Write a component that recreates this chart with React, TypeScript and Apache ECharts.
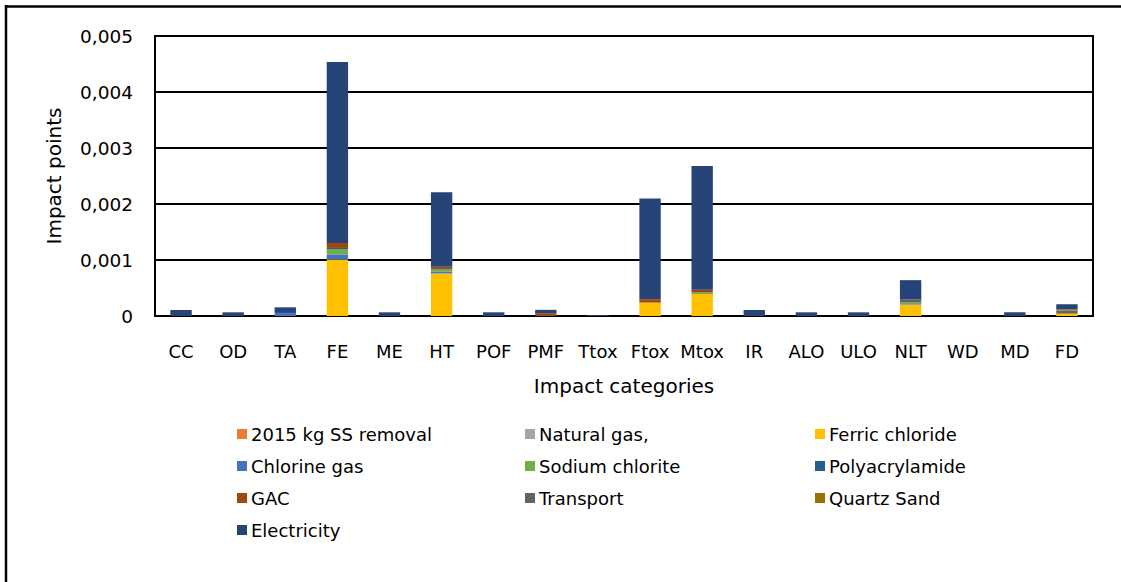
import React, { useEffect, useRef } from "react";
import * as echarts from "echarts";

const categories = ["CC", "OD", "TA", "FE", "ME", "HT", "POF", "PMF", "Ttox", "Ftox", "Mtox", "IR", "ALO", "ULO", "NLT", "WD", "MD", "FD"];

const seriesNames = ["2015 kg SS removal", "Natural gas,", "Ferric chloride", "Chlorine gas", "Sodium chlorite", "Polyacrylamide", "GAC", "Transport", "Quartz Sand", "Electricity"];
const seriesColors = ["#ED7D31", "#A5A5A5", "#FFC000", "#4472C4", "#70AD47", "#255E91", "#9E480E", "#636363", "#997300", "#264478"];

const ssRemoval = [0, 0, 0, 0, 0, 0, 0, 0, 0, 0, 0, 0, 0, 0, 0, 0, 0, 0];
const naturalGas = [0, 0, 0, 0, 0, 0, 0, 0, 0, 0, 0, 0, 0, 0, 0, 0, 0, 0];
const ferricChloride = [0, 0, 0, 1.01e-3, 0, 0.76e-3, 0, 0, 0, 0.24e-3, 0.39e-3, 0, 0, 0, 0.2e-3, 0, 0, 0.04e-3];
const chlorineGas = [0, 0, 0.055e-3, 0.09e-3, 0, 0.03e-3, 0, 0, 0, 0, 0, 0, 0, 0, 0.01e-3, 0, 0, 0];
const sodiumChlorite = [0, 0, 0, 0.095e-3, 0, 0.04e-3, 0, 0, 0, 0, 0.03e-3, 0, 0, 0, 0.03e-3, 0, 0, 0];
const polyacrylamide = [0, 0, 0, 0.02e-3, 0, 0.01e-3, 0, 0, 0, 0, 0, 0, 0, 0, 0, 0, 0, 0];
const gac = [0, 0, 0, 0.09e-3, 0, 0.04e-3, 0, 0.05e-3, 0, 0.06e-3, 0.05e-3, 0, 0, 0, 0, 0, 0, 0.01e-3];
const transport = [0, 0, 0, 0, 0, 0, 0, 0, 0, 0, 0, 0, 0, 0, 0.06e-3, 0, 0, 0.05e-3];
const quartzSand = [0, 0, 0, 0, 0, 0, 0, 0, 0, 0, 0, 0, 0, 0, 0, 0, 0, 0.02e-3];
const electricity = [0.107e-3, 0.066e-3, 0.1e-3, 3.23e-3, 0.066e-3, 1.33e-3, 0.066e-3, 0.06e-3, 0.015e-3, 1.8e-3, 2.21e-3, 0.107e-3, 0.066e-3, 0.066e-3, 0.34e-3, 0, 0.066e-3, 0.09e-3];

const seriesValues = [ssRemoval, naturalGas, ferricChloride, chlorineGas, sodiumChlorite, polyacrylamide, gac, transport, quartzSand, electricity];

const legendColumns = [
  ["2015 kg SS removal", "Chlorine gas", "GAC", "Electricity"],
  ["Natural gas,", "Sodium chlorite", "Transport"],
  ["Ferric chloride", "Polyacrylamide", "Quartz Sand"],
];
const legendLefts = [232, 520, 810];

const FONT = "DejaVu Sans";

export default function App() {
  const ref = useRef<HTMLDivElement>(null);
  useEffect(() => {
    if (!ref.current) return;
    const chart = echarts.init(ref.current, undefined, { renderer: "svg" });
    chart.setOption({
      animation: false,
      backgroundColor: "#fff",
      textStyle: { fontFamily: FONT, color: "#000" },
      grid: {
        left: 155,
        right: 28,
        top: 36,
        height: 280,
        show: true,
        borderColor: "#000",
        borderWidth: 2,
      },
      legend: legendColumns.map((col, i) => ({
        orient: "vertical",
        left: legendLefts[i],
        top: 419,
        data: col,
        itemWidth: 10,
        itemHeight: 10,
        itemGap: 12,
        icon: "rect",
        selectedMode: false,
        textStyle: { fontFamily: FONT, fontSize: 18, color: "#000", lineHeight: 20, padding: [0, 0, 0, -1] },
      })),
      xAxis: {
        type: "category",
        data: categories,
        axisTick: { show: false },
        axisLine: { lineStyle: { color: "#000", width: 2 } },
        axisLabel: { fontFamily: FONT, fontSize: 18, color: "#000", margin: 26, interval: 0 },
        name: "Impact categories",
        nameLocation: "middle",
        nameGap: 60,
        nameTextStyle: { fontFamily: FONT, fontSize: 20, color: "#000" },
      },
      yAxis: {
        type: "value",
        min: 0,
        max: 0.005,
        interval: 0.001,
        axisLine: { show: true, lineStyle: { color: "#000", width: 2 } },
        axisTick: { show: false },
        splitLine: { lineStyle: { color: "#000", width: 2 } },
        axisLabel: {
          fontFamily: FONT,
          fontSize: 18.5,
          color: "#000",
          margin: 22,
          formatter: (v: number) => (v === 0 ? "0" : v.toFixed(3).replace(".", ",")),
        },
        name: "Impact points",
        nameLocation: "middle",
        nameGap: 91,
        nameTextStyle: { fontFamily: FONT, fontSize: 20, color: "#000" },
      },
      series: seriesNames.map((name, i) => ({
        name,
        type: "bar",
        stack: "total",
        barWidth: "41%",
        data: seriesValues[i],
        itemStyle: { color: seriesColors[i] },
      })),
      graphic: [
        { type: "line", shape: { x1: 5, y1: 6.5, x2: 1121, y2: 6.5 }, style: { stroke: "#000", lineWidth: 2.5 } },
        { type: "line", shape: { x1: 6, y1: 5, x2: 6, y2: 582 }, style: { stroke: "#000", lineWidth: 2.5 } },
      ],
    });
    return () => chart.dispose();
  }, []);
  return <div ref={ref} style={{ position: "fixed", left: 0, top: 0, width: 1121, height: 582 }} />;
}
